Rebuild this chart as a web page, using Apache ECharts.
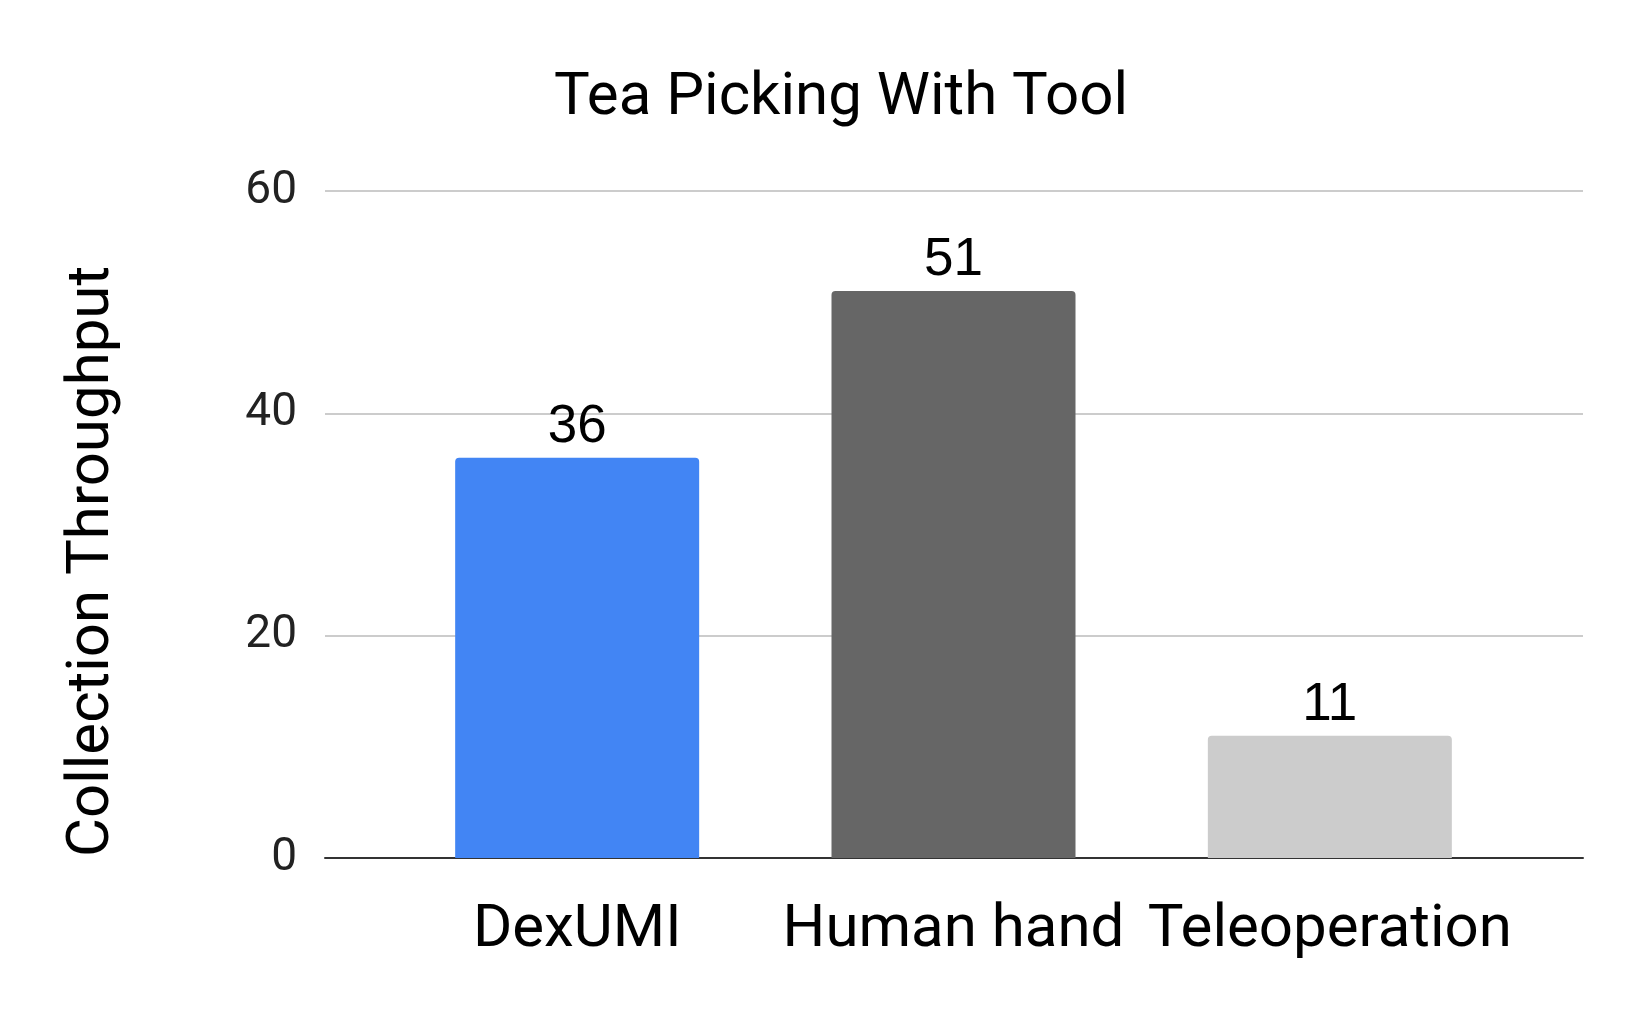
<!DOCTYPE html>
<html>
<head>
<meta charset="utf-8">
<script src="https://cdn.jsdelivr.net/npm/echarts@6/dist/echarts.min.js"></script>
<style>
  html, body { margin: 0; padding: 0; background: #fff; }
  #chart { width: 1644px; height: 1014px; }
</style>
</head>
<body>
<div id="chart"></div>
<script>
// data
var categories = ['DexUMI', 'Human hand', 'Teleoperation'];
var throughput = [36, 51, 11];
var barColors = ['#4285f4', '#666666', '#cccccc'];
var yTicks = { min: 0, max: 60, interval: 20 };

var font = 'Roboto, "Noto Sans", sans-serif';

var chart = echarts.init(document.getElementById('chart'));

var option = {
  backgroundColor: '#fff',
  animation: false,
  title: {
    text: 'Tea Picking With Tool',
    left: 836,
    textAlign: 'center',
    top: 64,
    textStyle: { fontFamily: font, fontSize: 60, fontWeight: 'normal', color: '#000' }
  },
  grid: [
    // gridlines + y labels span the full width
    { left: 325, right: 61, top: 191, bottom: 156 },
    // bars sit in a narrower band
    { left: 389, right: 126, top: 191, bottom: 156 }
  ],
  xAxis: [
    {
      type: 'value', gridIndex: 0, min: 0, max: 1,
      axisLine: { show: true, lineStyle: { color: '#333', width: 2 } },
      axisTick: { show: false }, axisLabel: { show: false }, splitLine: { show: false }
    },
    {
      type: 'category', gridIndex: 1, data: categories,
      axisLine: { show: false }, axisTick: { show: false },
      axisLabel: {
        interval: 0, hideOverlap: false,
        margin: 43, fontFamily: font, fontSize: 60, color: '#000'
      }
    }
  ],
  yAxis: [
    {
      type: 'value', gridIndex: 0, min: yTicks.min, max: yTicks.max, interval: yTicks.interval,
      name: 'Collection Throughput',
      nameLocation: 'middle',
      nameRotate: 90,
      nameGap: 232,
      nameTextStyle: {
        fontFamily: font, fontSize: 60, color: '#000', verticalAlign: 'middle',
        padding: [0, 74, 0, 0]
      },
      axisLine: { show: false }, axisTick: { show: false },
      axisLabel: { margin: 28, fontFamily: font, fontSize: 46, color: '#222' },
      splitLine: { lineStyle: { color: '#cccccc', width: 2 } }
    },
    {
      type: 'value', gridIndex: 1, min: yTicks.min, max: yTicks.max, show: false
    }
  ],
  series: [
    {
      type: 'bar',
      xAxisIndex: 1,
      yAxisIndex: 1,
      barWidth: 244,
      data: throughput.map(function (v, i) {
        return { value: v, itemStyle: { color: barColors[i], borderRadius: [4, 4, 0, 0] } };
      }),
      label: {
        show: true,
        position: 'top',
        distance: 4,
        fontFamily: '"Liberation Sans", Arial, sans-serif',
        fontSize: 53,
        color: '#000'
      }
    }
  ]
};

chart.setOption(option);
</script>
</body>
</html>
